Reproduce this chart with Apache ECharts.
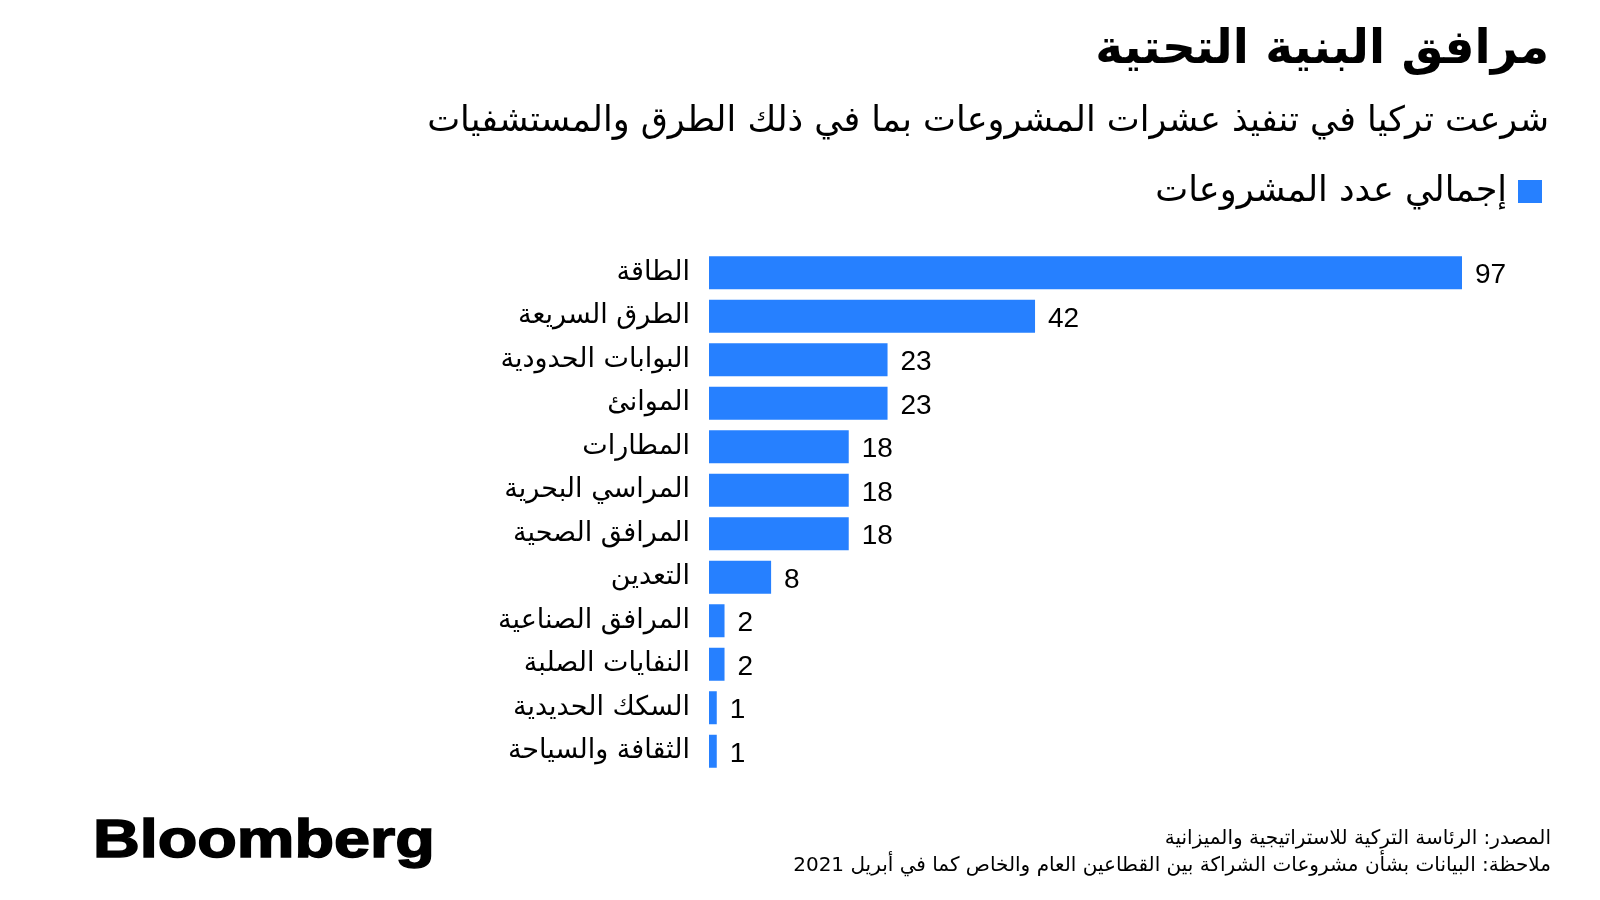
<!DOCTYPE html>
<html>
<head>
<meta charset="utf-8">
<script src="https://cdn.jsdelivr.net/npm/echarts@6/dist/echarts.min.js"></script>
<style>
html,body{margin:0;padding:0;background:#fff;}
#chart{width:1600px;height:900px;}
</style>
</head>
<body>
<div id="chart"></div>
<script>
const categories = ['الطاقة','الطرق السريعة','البوابات الحدودية','الموانئ','المطارات','المراسي البحرية','المرافق الصحية','التعدين','المرافق الصناعية','النفايات الصلبة','السكك الحديدية','الثقافة والسياحة'];
const values = [97, 42, 23, 23, 18, 18, 18, 8, 2, 2, 1, 1];
const seriesName = 'إجمالي عدد المشروعات';
const titleText = 'مرافق البنية التحتية';
const subtitleText = 'شرعت تركيا في تنفيذ عشرات المشروعات بما في ذلك الطرق والمستشفيات';
const sourceText = 'المصدر: الرئاسة التركية للاستراتيجية والميزانية';
const noteText = 'ملاحظة: البيانات بشأن مشروعات الشراكة بين القطاعين العام والخاص كما في أبريل 2021';

const AR = "'DejaVu Sans', 'Noto Sans', sans-serif";
const chart = echarts.init(document.getElementById('chart'));
chart.setOption({
  backgroundColor: '#ffffff',
  animation: false,
  title: [
    { text: titleText, right: 51, top: 27, padding: 0, textStyle: { fontFamily: AR, fontSize: 47, fontWeight: 'bold', color: '#000' } },
    { text: subtitleText, right: 51, top: 104, padding: 0, textStyle: { fontFamily: AR, fontSize: 35, fontWeight: 'normal', color: '#000' } },
    { text: sourceText, right: 49, top: 829, padding: 0, textStyle: { fontFamily: AR, fontSize: 20, fontWeight: 'normal', color: '#000' } },
    { text: noteText, right: 49, top: 856, padding: 0, textStyle: { fontFamily: AR, fontSize: 20, fontWeight: 'normal', color: '#000' } }
  ],
  legend: {
    data: [seriesName],
    right: 58, top: 174, padding: 0,
    align: 'right',
    icon: 'rect',
    itemWidth: 24, itemHeight: 23, itemGap: 10,
    textStyle: { fontFamily: AR, fontSize: 35, color: '#000', padding: [0, 6, 0, 0] }
  },
  graphic: [
    { type: 'text', left: 92, top: 814, scaleX: 1.20,
      style: { text: 'Bloomberg', font: "bold 54px 'Liberation Sans', Arial, sans-serif", fill: '#000', stroke: '#000', lineWidth: 1.5 } }
  ],
  grid: { left: 709, right: 138, top: 251, bottom: 127, containLabel: false },
  xAxis: { type: 'value', min: 0, max: 97, show: false },
  yAxis: {
    type: 'category', data: categories, inverse: true,
    axisLine: { show: false }, axisTick: { show: false }, splitLine: { show: false },
    axisLabel: { margin: 19, fontFamily: AR, fontSize: 27, color: '#000', padding: [6, 0, 0, 0] }
  },
  series: [{
    name: seriesName, type: 'bar', data: values, barWidth: 33,
    itemStyle: { color: '#2680ff' },
    label: { show: true, position: 'right', distance: 13, offset: [0, 3], fontFamily: "'Liberation Sans', Arial, sans-serif", fontSize: 28, color: '#000' }
  }]
});
</script>
</body>
</html>
